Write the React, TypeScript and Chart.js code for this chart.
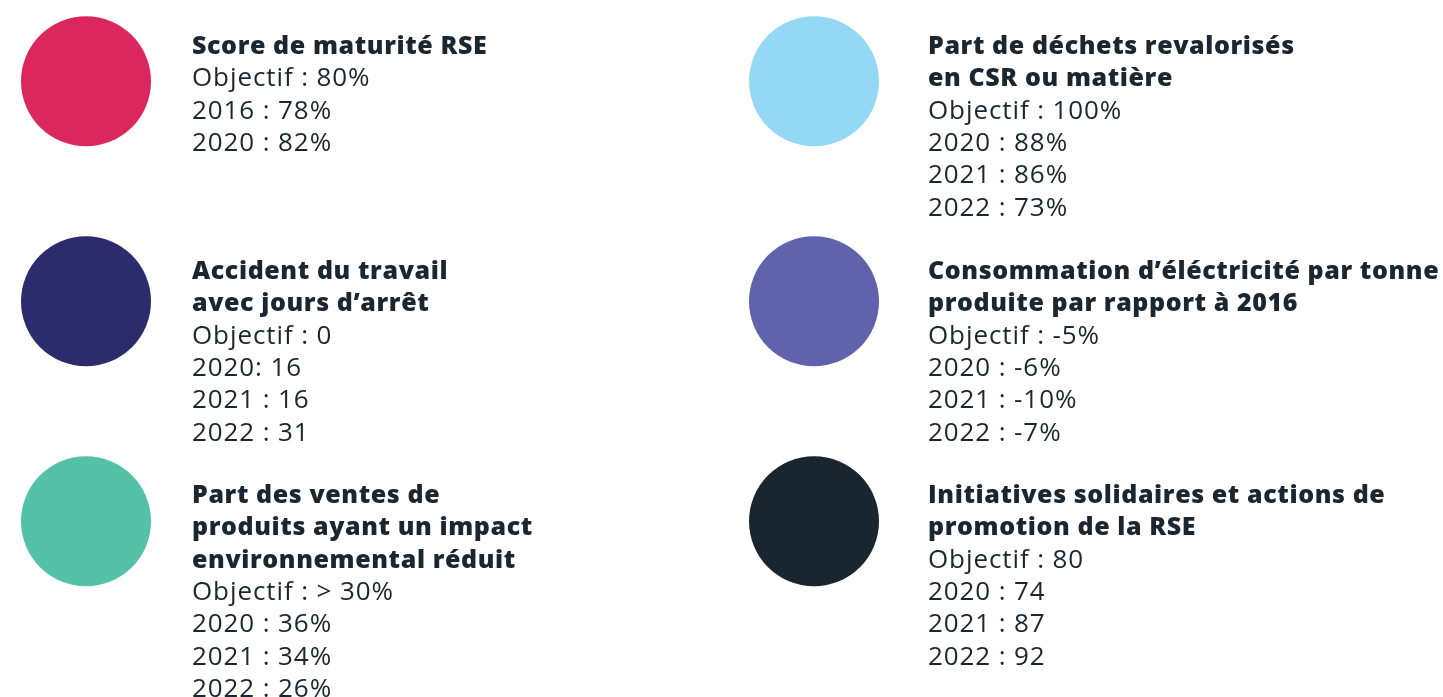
import React, { useEffect, useRef } from "react";
import { Chart, registerables } from "chart.js";

Chart.register(...registerables);

const titles: string[][] = [
  ["Score de maturité RSE"],
  ["Accident du travail", "avec jours d’arrêt"],
  ["Part des ventes de", "produits ayant un impact", "environnemental réduit"],
  ["Part de déchets revalorisés", "en CSR ou matière"],
  ["Consommation d’éléctricité par tonne", "produite par rapport à 2016"],
  ["Initiatives solidaires et actions de", "promotion de la RSE"],
];
const objectives: string[] = ["80%", "0", "> 30%", "100%", "-5%", "80"];
const results: string[][] = [
  ["2016 : 78%", "2020 : 82%"],
  ["2020: 16", "2021 : 16", "2022 : 31"],
  ["2020 : 36%", "2021 : 34%", "2022 : 26%"],
  ["2020 : 88%", "2021 : 86%", "2022 : 73%"],
  ["2020 : -6%", "2021 : -10%", "2022 : -7%"],
  ["2020 : 74", "2021 : 87", "2022 : 92"],
];
const columns: number[] = [0, 0, 0, 1, 1, 1];
const rows: number[] = [0, 1, 2, 0, 1, 2];
const colors: string[] = ["#DC275E", "#2C2B6B", "#54C1A9", "#94D8F6", "#6062AB", "#19252F"];

// layout (not data)
const W = 1443;
const H = 697;
const colStep = 728;
const rowStep = 220;
const firstCol = 86;
const firstRow = 81.3;
const textLeft = [192, 928];
const textTop = [28.2, 253.2, 477.2];
const textColor = "#1A2630";

export default function App() {
  const ref = useRef<HTMLCanvasElement | null>(null);
  useEffect(() => {
    document.body.style.margin = "0";
    if (!ref.current) return;
    const xMin = -firstCol / colStep;
    const yMin = -firstRow / rowStep;
    const chart = new Chart(ref.current, {
      type: "scatter",
      data: {
        datasets: [
          {
            data: columns.map((c, i) => ({ x: c, y: rows[i] })),
            backgroundColor: colors,
            pointBackgroundColor: colors,
            pointBorderWidth: 0,
            pointRadius: 65,
            pointHoverRadius: 65,
            clip: false,
          },
        ],
      },
      options: {
        animation: false,
        responsive: false,
        devicePixelRatio: 1,
        layout: { padding: 0, autoPadding: false },
        plugins: { legend: { display: false }, tooltip: { enabled: false } },
        events: [],
        scales: {
          x: { type: "linear", display: false, min: xMin, max: xMin + W / colStep },
          y: { type: "linear", display: false, reverse: true, min: yMin, max: yMin + H / rowStep },
        },
      },
    } as any);
    return () => chart.destroy();
  }, []);

  return (
    <div style={{ position: "absolute", left: 0, top: 0, width: W, height: H, background: "#fff", overflow: "hidden" }}>
      <canvas ref={ref} width={W} height={H} style={{ position: "absolute", left: 0, top: 0 }} />
      {titles.map((t, i) => (
        <div
          key={i}
          style={{
            position: "absolute",
            left: textLeft[columns[i]],
            top: textTop[rows[i]],
            fontFamily: "'Open Sans', 'Noto Sans', sans-serif",
            lineHeight: "32.3px",
            color: textColor,
            whiteSpace: "nowrap",
            fontVariantLigatures: "none",
          }}
        >
          {t.map((line, j) => (
            <div key={"t" + j} style={{ fontWeight: 800, fontSize: 25, letterSpacing: "0.6px" }}>{line}</div>
          ))}
          <div style={{ fontWeight: 400, fontSize: 26, letterSpacing: "0.9px" }}>{"Objectif : " + objectives[i]}</div>
          {results[i].map((line, j) => (
            <div key={"r" + j} style={{ fontWeight: 400, fontSize: 26, letterSpacing: "0.9px" }}>{line}</div>
          ))}
        </div>
      ))}
    </div>
  );
}
